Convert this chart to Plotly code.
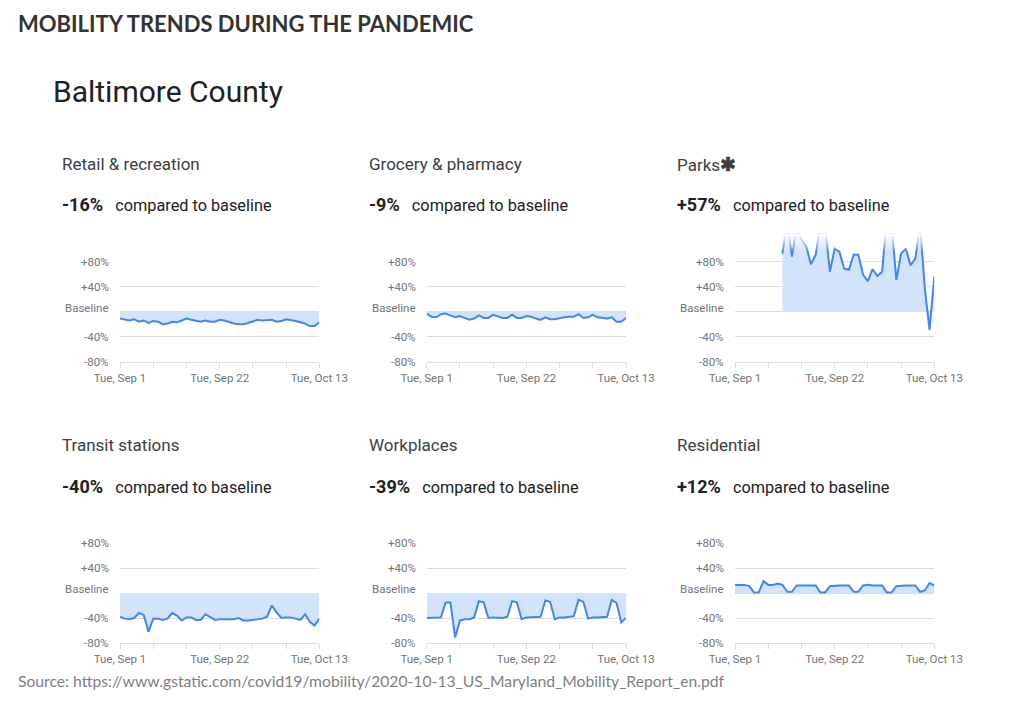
import pandas as pd
import plotly.graph_objects as go

# daily values, Sep 1 - Oct 13 2020, % change vs baseline
dates = pd.date_range("2020-09-01", "2020-10-13")

retail = [-11, -13, -14, -12, -16, -14, -18, -15, -16, -20,
          -19, -16, -17, -14, -11, -13, -15, -16, -14, -16,
          -16, -13, -14, -17, -19, -20, -20, -18, -16, -13,
          -14, -14, -13, -16, -15, -12, -13, -15, -17, -19,
          -23, -23, -17]
grocery = [-3, -8, -9, -4, -3, -6, -9, -7, -10, -13,
           -11, -6, -10, -10, -5, -8, -10, -10, -5, -10,
           -10, -7, -8, -11, -13, -9, -12, -12, -10, -9,
           -8, -8, -4, -10, -9, -5, -9, -10, -11, -9,
           -16, -16, -10]
parks = [None] * 10 + [93, 145, 88, 135, 115, 105, 76, 91, 140, 135,
                       64, 101, 96, 69, 67, 91, 91, 59, 49, 68,
                       57, 64, 150, 140, 51, 93, 101, 74, 85, 140,
                       37, -29, 56]
transit = [-38, -41, -42, -40, -32, -35, -62, -41, -41, -43,
           -41, -32, -36, -44, -39, -39, -43, -43, -34, -39,
           -43, -42, -42, -42, -42, -40, -44, -44, -43, -42,
           -41, -38, -20, -31, -40, -39, -39, -41, -43, -34,
           -46, -52, -41]
workplaces = [-40, -40, -40, -39, -15, -15, -71, -44, -42, -42,
              -39, -13, -15, -40, -39, -39, -40, -38, -13, -15,
              -42, -39, -39, -39, -38, -12, -14, -42, -39, -39,
              -38, -37, -11, -14, -41, -39, -39, -39, -38, -11,
              -16, -47, -40]
residential = [13, 13, 13, 11, 1, 1, 19, 13, 13, 15,
               13, 2, 2, 12, 12, 12, 13, 12, 1, 1,
               11, 12, 12, 12, 12, 2, 2, 12, 13, 12,
               12, 12, 1, 1, 11, 12, 12, 12, 12, 2,
               4, 16, 12]

names = ["Retail & recreation", "Grocery & pharmacy", "Parks",
         "Transit stations", "Workplaces", "Residential"]
headline = ["-16%", "-9%", "+57%", "-40%", "-39%", "+12%"]
series = [retail, grocery, parks, transit, workplaces, residential]

ytick_vals = [80, 40, 0, -40, -80]
ytick_text = ["+80%", "+40%", "Baseline", "-40%", "-80%"]
xtick_vals = pd.date_range("2020-09-01", "2020-10-13", freq="7D")
xtick_text = ["Tue, Sep 1", "", "", "Tue, Sep 22", "", "", "Tue, Oct 13"]

W, H = 1024, 703
OFF = 8  # page body margin
BLUE = "#4285f4"
FILL = "#d2e3fc"
GRID = "#dadce0"
GRAYTXT = "#70757a"


def px(x):
    return (x - OFF) / W


def py(y):
    return 1 - (y - OFF) / H


col_x = [(120, 319.3), (426.7, 626), (735, 934.3)]
row_y = [(261.7, 361.7), (543, 643)]
text_x = [60, 367, 675]
text_y = [(164, 204), (445, 486)]

fig = go.Figure()
annotations = []
shapes = []

for i, (name, val, s) in enumerate(zip(names, headline, series)):
    n = i + 1
    r, c = divmod(i, 3)
    sfx = "" if n == 1 else str(n)
    x0, x1 = col_x[c]
    y0, y1 = row_y[r]
    yrange = [-80, 80]
    if name == "Parks":
        # taller area so big spikes run off the top before being clipped
        yrange = [-80, 125]
        y0 = y1 - (y1 - y0) * 205 / 160

    fig.add_trace(go.Scatter(
        x=dates, y=s, mode="lines", fill="tozeroy", fillcolor=FILL,
        line=dict(color=BLUE, width=2), xaxis="x" + sfx, yaxis="y" + sfx,
        showlegend=False, hoverinfo="skip"))

    fig.layout["xaxis" + sfx] = dict(
        domain=[px(x0), px(x1)], anchor="y" + sfx, automargin=False,
        range=[dates[0], dates[-1]], showgrid=False, zeroline=False,
        showline=True, linecolor=GRID, linewidth=1,
        ticks="outside", ticklen=5, tickcolor=GRID,
        tickvals=xtick_vals, ticktext=xtick_text,
        tickfont=dict(family="Roboto", size=11.5, color=GRAYTXT))
    fig.layout["yaxis" + sfx] = dict(
        domain=[py(y1), py(y0)], anchor="x" + sfx, range=yrange,
        automargin=False, tickvals=ytick_vals, showticklabels=False,
        showgrid=True, gridcolor=GRID, gridwidth=1, zeroline=False,
        showline=False, ticks="")

    for v, t in zip(ytick_vals, ytick_text):
        annotations.append(dict(
            xref="x" + sfx + " domain", yref="y" + sfx, x=0, y=v,
            xanchor="right", yanchor="middle", xshift=-9,
            yshift=4 if v == 0 else 0, text=t, showarrow=False,
            font=dict(family="Roboto", size=11.5, color=GRAYTXT)))

    label = name + "<span style='font-size:19px'><b>✱</b></span>" if name == "Parks" else name
    annotations.append(dict(
        xref="paper", yref="paper", x=px(text_x[c]), y=py(text_y[r][0]),
        xanchor="left", yanchor="middle", text=label, showarrow=False,
        font=dict(family="Roboto", size=17, color="#3c4043")))
    annotations.append(dict(
        xref="paper", yref="paper", x=px(text_x[c]), y=py(text_y[r][1]),
        xanchor="left", yanchor="middle",
        text="<b><span style='font-size:18px'>" + val
             + "</span></b>&nbsp;&nbsp;&nbsp;compared to baseline",
        showarrow=False, font=dict(family="Roboto", size=16.3, color="#202124")))

    if name == "Parks":
        # white fade over the top band
        steps = 8
        for k in range(steps):
            shapes.append(dict(
                type="rect", xref="x" + sfx + " domain", yref="y" + sfx,
                x0=-0.01, x1=1.01, y0=97 + k * 3.6, y1=97 + (k + 1) * 3.6 + 0.5,
                fillcolor="white", opacity=(k + 1) / steps,
                line=dict(width=0), layer="above"))

annotations.append(dict(
    xref="paper", yref="paper", x=px(16), y=py(24), xanchor="left",
    yanchor="middle", text="<b>MOBILITY TRENDS DURING THE PANDEMIC</b>",
    showarrow=False, font=dict(family="Lato", size=22, color="#333333")))
annotations.append(dict(
    xref="paper", yref="paper", x=px(51), y=py(91), xanchor="left",
    yanchor="middle", text="Baltimore County", showarrow=False,
    font=dict(family="Roboto", size=30, color="#202124")))
annotations.append(dict(
    xref="paper", yref="paper", x=px(16), y=py(681), xanchor="left",
    yanchor="middle",
    text="Source: https://www.gstatic.com/covid19/mobility/2020-10-13_US_Maryland_Mobility_Report_en.pdf",
    showarrow=False, font=dict(family="Lato", size=15.7, color="#7f7f7f")))

fig.update_layout(
    template="none", width=W, height=H, autosize=False,
    margin=dict(l=0, r=0, t=0, b=0, pad=0),
    paper_bgcolor="white", plot_bgcolor="white",
    annotations=annotations, shapes=shapes)

fig.write_html("out.html")
